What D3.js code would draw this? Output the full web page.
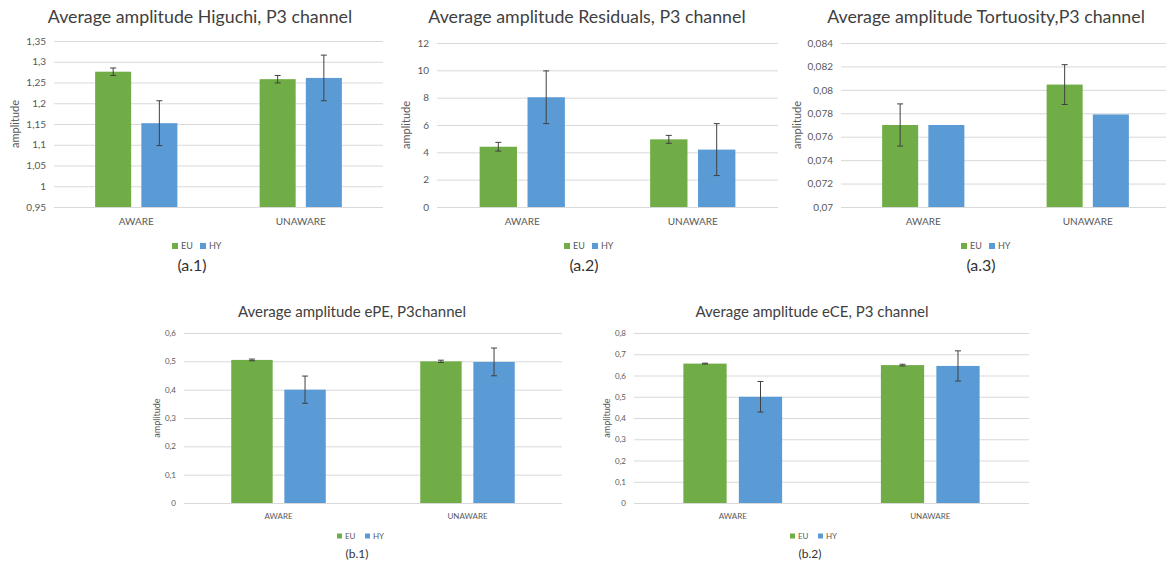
<!DOCTYPE html>
<html>
<head>
<meta charset="utf-8">
<script src="https://cdn.jsdelivr.net/npm/d3@7"></script>
<style>
  html, body { margin: 0; padding: 0; background: #fff; }
  svg { display: block; font-family: Lato, "Open Sans", sans-serif; }
</style>
</head>
<body>
<svg id="chart" width="1166" height="561"></svg>
<script>
// Shared categories and series
const categories = ["AWARE", "UNAWARE"];
const seriesNames = ["EU", "HY"];
const seriesColors = ["#70AD47", "#5B9BD5"];

// Higuchi (a.1)
const higuchiEU = [1.276, 1.258];
const higuchiHY = [1.152, 1.261];
const higuchiErrEU = [0.009, 0.009];
const higuchiErrHY = [0.054, 0.055];
const higuchiTicks = [0.95, 1, 1.05, 1.1, 1.15, 1.2, 1.25, 1.3, 1.35];

// Residuals (a.2)
const residualsEU = [4.41, 4.95];
const residualsHY = [8.03, 4.2];
const residualsErrEU = [0.32, 0.29];
const residualsErrHY = [1.93, 1.9];
const residualsTicks = [0, 2, 4, 6, 8, 10, 12];

// Tortuosity (a.3)
const tortuosityEU = [0.0770, 0.08045];
const tortuosityHY = [0.0770, 0.0779];
const tortuosityErrEU = [0.0018, 0.0017];
const tortuosityErrHY = [0, 0];
const tortuosityTicks = [0.07, 0.072, 0.074, 0.076, 0.078, 0.08, 0.082, 0.084];

// ePE (b.1)
const ePE_EU = [0.505, 0.5];
const ePE_HY = [0.40, 0.498];
const ePE_ErrEU = [0.003, 0.004];
const ePE_ErrHY = [0.048, 0.049];
const ePETicks = [0, 0.1, 0.2, 0.3, 0.4, 0.5, 0.6];

// eCE (b.2)
const eCE_EU = [0.656, 0.649];
const eCE_HY = [0.50, 0.645];
const eCE_ErrEU = [0.002, 0.004];
const eCE_ErrHY = [0.072, 0.071];
const eCETicks = [0, 0.1, 0.2, 0.3, 0.4, 0.5, 0.6, 0.7, 0.8];

const fmt = v => String(+v.toFixed(4)).replace(".", ",");

const panels = [
  { title: "Average amplitude Higuchi, P3 channel", caption: "(a.1)",
    eu: higuchiEU, hy: higuchiHY, errEu: higuchiErrEU, errHy: higuchiErrHY, ticks: higuchiTicks,
    box: { x0: 54, x1: 383, top: 41, bottom: 207 }, titleX: 200, titleY: 23, titleSize: 17.8,
    yTitleX: 15, tickSize: 10, catY: 225, legendY: 246, legendX: 192, captionY: 271, captionX: 192, small: false },
  { title: "Average amplitude Residuals, P3 channel", caption: "(a.2)",
    eu: residualsEU, hy: residualsHY, errEu: residualsErrEU, errHy: residualsErrHY, ticks: residualsTicks,
    box: { x0: 437, x1: 778, top: 43, bottom: 207 }, titleX: 587, titleY: 23, titleSize: 17.8,
    yTitleX: 406, tickSize: 10, catY: 225, legendY: 246, legendX: 584, captionY: 271, captionX: 584, small: false },
  { title: "Average amplitude Tortuosity,P3 channel", caption: "(a.3)",
    eu: tortuosityEU, hy: tortuosityHY, errEu: tortuosityErrEU, errHy: tortuosityErrHY, ticks: tortuosityTicks,
    box: { x0: 841, x1: 1170, top: 43, bottom: 207 }, titleX: 986, titleY: 23, titleSize: 17.8,
    yTitleX: 797, tickSize: 10, catY: 225, legendY: 246, legendX: 981, captionY: 271, captionX: 981, small: false },
  { title: "Average amplitude ePE, P3channel", caption: "(b.1)",
    eu: ePE_EU, hy: ePE_HY, errEu: ePE_ErrEU, errHy: ePE_ErrHY, ticks: ePETicks,
    box: { x0: 184, x1: 562, top: 333, bottom: 503 }, titleX: 352, titleY: 317, titleSize: 15,
    yTitleX: 157, tickSize: 8, catY: 519, legendY: 536, legendX: 357, captionY: 558, captionX: 357, small: true },
  { title: "Average amplitude eCE, P3 channel", caption: "(b.2)",
    eu: eCE_EU, hy: eCE_HY, errEu: eCE_ErrEU, errHy: eCE_ErrHY, ticks: eCETicks,
    box: { x0: 634, x1: 1029, top: 333, bottom: 503 }, titleX: 812, titleY: 317, titleSize: 15,
    yTitleX: 607, tickSize: 8, catY: 519, legendY: 536, legendX: 810, captionY: 558, captionX: 810, small: true }
];

const svg = d3.select("#chart");

panels.forEach(p => {
  const g = svg.append("g");
  const b = p.box;

  const y = d3.scaleLinear()
    .domain([p.ticks[0], p.ticks[p.ticks.length - 1]])
    .range([b.bottom, b.top]);

  const x0 = d3.scaleBand().domain(categories).range([b.x0, b.x1]).paddingInner(0).paddingOuter(0);
  const groupW = x0.bandwidth() * 0.5;
  const x1 = d3.scaleBand().domain(seriesNames).range([0, groupW]).paddingInner(0.22).paddingOuter(0);

  // gridlines and tick labels
  const axis = d3.axisLeft(y).tickValues(p.ticks).tickFormat(fmt)
    .tickSize(-(b.x1 - b.x0)).tickPadding(8);
  const ax = g.append("g").attr("transform", `translate(${b.x0},0)`).call(axis);
  ax.select(".domain").remove();
  ax.selectAll(".tick line").attr("stroke", "#D9D9D9").attr("stroke-width", 1);
  ax.selectAll(".tick text").attr("fill", "#595959")
    .style("font-size", p.tickSize + "px").style("font-family", "Lato, sans-serif");

  // bars
  const rows = categories.map((c, i) => ({
    cat: c,
    vals: [
      { s: "EU", v: p.eu[i], e: p.errEu[i], color: seriesColors[0] },
      { s: "HY", v: p.hy[i], e: p.errHy[i], color: seriesColors[1] }
    ]
  }));

  const grp = g.selectAll(".cat").data(rows).join("g")
    .attr("transform", d => `translate(${x0(d.cat) + (x0.bandwidth() - groupW) / 2},0)`);

  grp.selectAll("rect").data(d => d.vals).join("rect")
    .attr("x", d => x1(d.s))
    .attr("width", x1.bandwidth())
    .attr("y", d => y(d.v))
    .attr("height", d => y(p.ticks[0]) - y(d.v))
    .attr("fill", d => d.color);

  // error bars
  const eb = grp.selectAll(".err").data(d => d.vals.filter(v => v.e > 0)).join("g")
    .attr("class", "err")
    .attr("stroke", "#404040").attr("stroke-width", 1);
  eb.append("line")
    .attr("x1", d => x1(d.s) + x1.bandwidth() / 2).attr("x2", d => x1(d.s) + x1.bandwidth() / 2)
    .attr("y1", d => y(d.v + d.e)).attr("y2", d => y(d.v - d.e));
  eb.append("line")
    .attr("x1", d => x1(d.s) + x1.bandwidth() / 2 - 3).attr("x2", d => x1(d.s) + x1.bandwidth() / 2 + 3)
    .attr("y1", d => y(d.v + d.e)).attr("y2", d => y(d.v + d.e));
  eb.append("line")
    .attr("x1", d => x1(d.s) + x1.bandwidth() / 2 - 3).attr("x2", d => x1(d.s) + x1.bandwidth() / 2 + 3)
    .attr("y1", d => y(d.v - d.e)).attr("y2", d => y(d.v - d.e));

  // category labels
  g.selectAll(".catlabel").data(categories).join("text")
    .attr("x", d => x0(d) + x0.bandwidth() / 2)
    .attr("y", p.catY)
    .attr("text-anchor", "middle")
    .attr("fill", "#595959")
    .style("font-size", p.tickSize + "px")
    .text(d => d);

  // axis title
  g.append("text")
    .attr("transform", `translate(${p.yTitleX},${(b.top + b.bottom) / 2}) rotate(-90)`)
    .attr("text-anchor", "middle")
    .attr("dy", "0.35em")
    .attr("fill", "#595959")
    .style("font-size", (p.small ? 9 : 11) + "px")
    .text("amplitude");

  // chart title
  g.append("text")
    .attr("x", p.titleX).attr("y", p.titleY)
    .attr("text-anchor", "middle")
    .attr("fill", "#404040")
    .style("font-size", p.titleSize + "px")
    .text(p.title);

  // legend
  const sq = p.small ? 5 : 6;
  const lf = p.small ? 8 : 9;
  const lg = g.append("g").attr("transform", `translate(${p.legendX},${p.legendY})`);
  const items = seriesNames.map((s, i) => ({ s, color: seriesColors[i], dx: i === 0 ? -20 : 8 }));
  const li = lg.selectAll("g").data(items).join("g").attr("transform", d => `translate(${d.dx},0)`);
  li.append("rect").attr("x", 0).attr("y", -sq / 2).attr("width", sq).attr("height", sq).attr("fill", d => d.color);
  li.append("text").attr("x", sq + 3).attr("dy", "0.35em").attr("fill", "#595959")
    .style("font-size", lf + "px").text(d => d.s);

  // caption
  g.append("text")
    .attr("x", p.captionX).attr("y", p.captionY)
    .attr("text-anchor", "middle")
    .attr("fill", "#333")
    .style("font-size", (p.small ? 12 : 16) + "px")
    .text(p.caption);
});
</script>
</body>
</html>
